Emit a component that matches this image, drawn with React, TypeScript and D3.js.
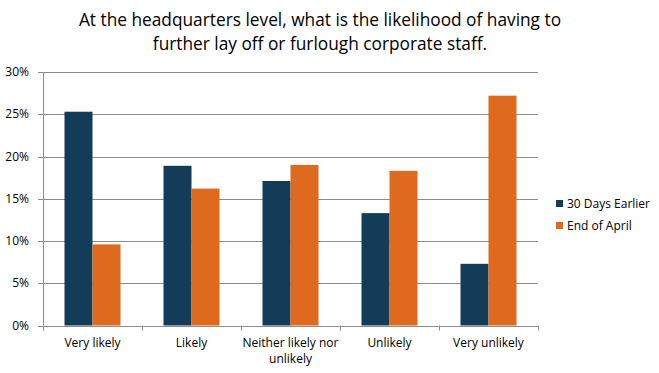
import React from "react";
import * as d3 from "d3";

const categories = ["Very likely", "Likely", "Neither likely nor unlikely", "Unlikely", "Very unlikely"];
const seriesNames = ["30 Days Earlier", "End of April"];
const earlier = [25.3, 18.9, 17.1, 13.3, 7.3];
const endApril = [9.6, 16.2, 19.0, 18.3, 27.2];
const yTicks = [0, 5, 10, 15, 20, 25, 30];
const colors = ["#133c59", "#dd6a1f"];

const font = "'Open Sans', sans-serif";

export default function App() {
  const width = 659;
  const height = 373;
  const left = 43;
  const right = 538;
  const top = 72;
  const bottom = 325.5;

  const x = d3.scaleBand().domain(categories).range([left, right]).paddingInner(0).paddingOuter(0);
  const y = d3.scaleLinear().domain([0, 30]).range([bottom, top]);

  const series = [earlier, endApril];
  const grid = "#8c8c8c";

  // split long labels to two lines like the source
  const labelLines = (c: string) => (c === "Neither likely nor unlikely" ? ["Neither likely nor", "unlikely"] : [c]);

  return (
    <svg width={width} height={height} style={{ position: "absolute", left: 0, top: 0, background: "#fff" }}>
      <text x={320} y={26} textAnchor="middle" fontFamily={font} fontSize={17.3} fill="#000">
        At the headquarters level, what is the likelihood of having to
      </text>
      <text x={320} y={50} textAnchor="middle" fontFamily={font} fontSize={17.3} fill="#000">
        further lay off or furlough corporate staff.
      </text>

      {yTicks.map((t) => (
        <g key={t}>
          <line x1={left - 5} x2={right} y1={Math.round(y(t)) + 0.5} y2={Math.round(y(t)) + 0.5} stroke={grid} strokeWidth={1} />
          <text x={left - 14} y={y(t) + 4} textAnchor="end" fontFamily={font} fontSize={12} fill="#000">
            {t}%
          </text>
        </g>
      ))}
      <line x1={left + 0.5} x2={left + 0.5} y1={top} y2={bottom} stroke={grid} />

      {categories.map((c, i) => (
        <g key={c}>
          {series.map((s, j) => {
            const bw = 28;
            const cx = (x(c) as number) + x.bandwidth() / 2;
            const bx = cx - bw + j * bw;
            return <rect key={j} x={bx} y={y(s[i])} width={bw} height={bottom - y(s[i])} fill={colors[j]} />;
          })}
          {labelLines(c).map((ln, k) => (
            <text
              key={k}
              x={(x(c) as number) + x.bandwidth() / 2}
              y={347 + k * 16}
              textAnchor="middle"
              fontFamily={font}
              fontSize={12}
              fill="#000"
            >
              {ln}
            </text>
          ))}
        </g>
      ))}
      {d3.range(categories.length + 1).map((i) => {
        const xx = Math.round(left + i * x.bandwidth()) + 0.5;
        return <line key={i} x1={xx} x2={xx} y1={bottom} y2={bottom + 5} stroke={grid} />;
      })}

      {seriesNames.map((n, j) => (
        <g key={n}>
          <rect x={556} y={200 + j * 22} width={7} height={7} fill={colors[j]} />
          <text x={567} y={208 + j * 22} fontFamily={font} fontSize={12} fill="#000">
            {n}
          </text>
        </g>
      ))}
    </svg>
  );
}
